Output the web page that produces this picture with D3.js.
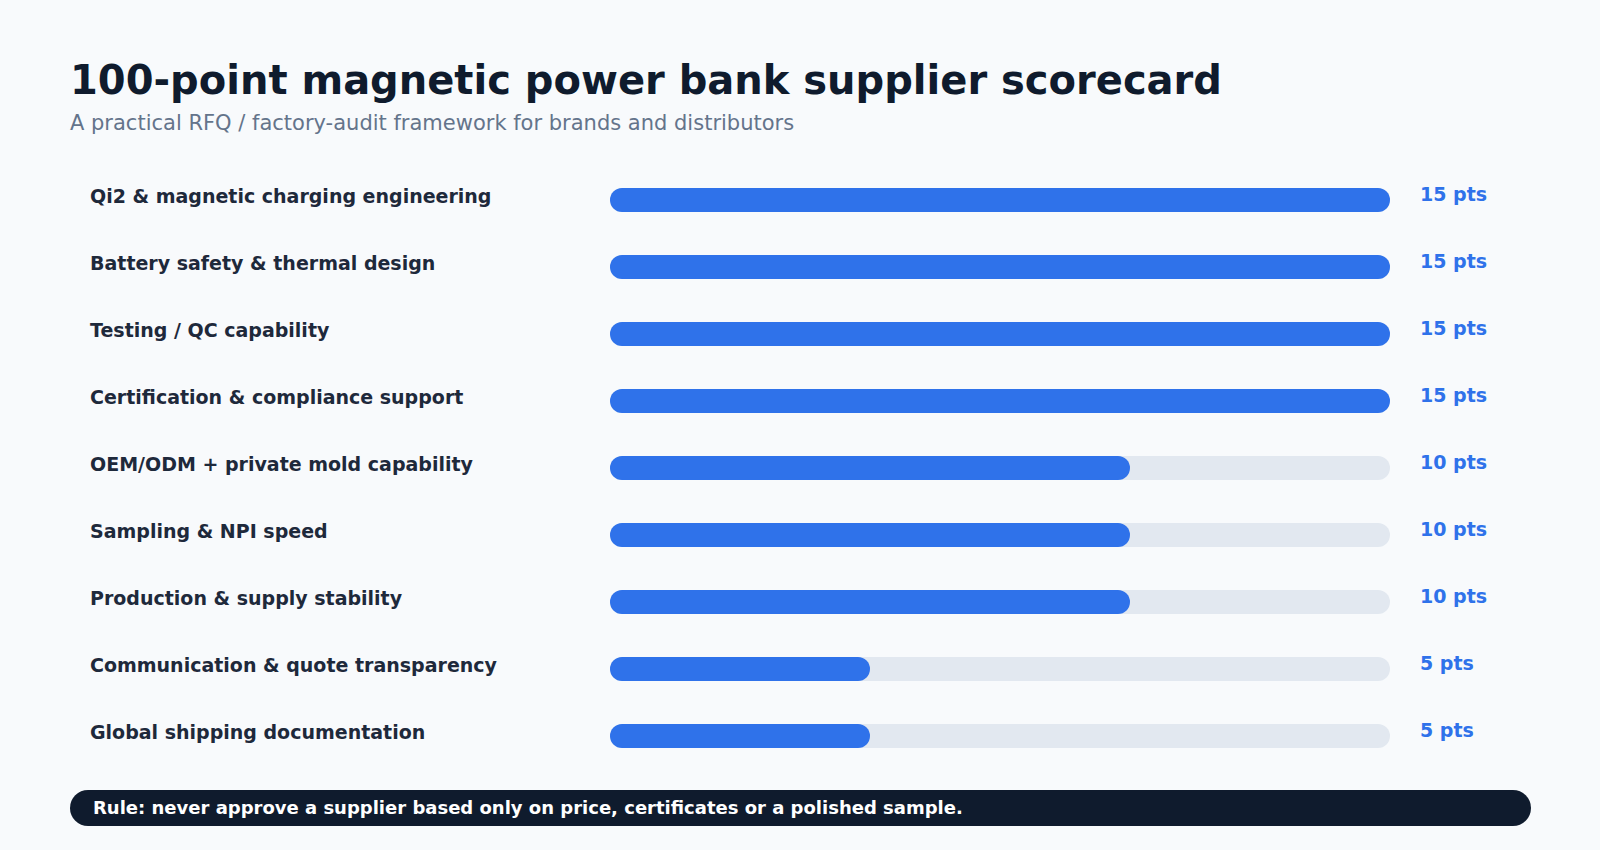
<!DOCTYPE html>
<html>
<head>
<meta charset="utf-8">
<script src="https://d3js.org/d3.v7.min.js"></script>
<title>Supplier scorecard</title>
<style>
  html, body { margin: 0; background: #f8fafc; }
  svg { display: block; font-family: "DejaVu Sans", sans-serif; }
</style>
</head>
<body>
<svg width="1600" height="850"></svg>
<script>
  const categories = [
    "Qi2 & magnetic charging engineering",
    "Battery safety & thermal design",
    "Testing / QC capability",
    "Certification & compliance support",
    "OEM/ODM + private mold capability",
    "Sampling & NPI speed",
    "Production & supply stability",
    "Communication & quote transparency",
    "Global shipping documentation"
  ]
  const points = [15, 15, 15, 15, 10, 10, 10, 5, 5]
  const maxPoints = 15
  const title = "100-point magnetic power bank supplier scorecard"
  const subtitle = "A practical RFQ / factory-audit framework for brands and distributors"
  const rule = "Rule: never approve a supplier based only on price, certificates or a polished sample."

  const svg = d3.select("svg")
  svg.append("rect").attr("width", 1600).attr("height", 850).attr("fill", "#f8fafc")

  svg.append("text")
    .attr("x", 70).attr("y", 94)
    .attr("font-size", 40).attr("font-weight", "bold").attr("fill", "#0f1b2d")
    .text(title)
  svg.append("text")
    .attr("x", 70).attr("y", 130)
    .attr("font-size", 21).attr("fill", "#64748b")
    .text(subtitle)

  // bar rows: centre of each row from a point scale
  const x = d3.scaleLinear().domain([0, maxPoints]).range([610, 1390])
  const y = d3.scalePoint().domain(categories).range([200, 736])
  const barH = 24

  const rows = svg.selectAll("g.row")
    .data(categories.map((c, i) => ({ c, v: points[i] })))
    .join("g")
    .attr("class", "row")
    .attr("transform", d => `translate(0,${y(d.c)})`)

  rows.append("rect")
    .attr("x", x(0)).attr("y", -barH / 2).attr("width", x(maxPoints) - x(0))
    .attr("height", barH).attr("rx", barH / 2)
    .attr("fill", "#e2e8f0")
  rows.append("rect")
    .attr("x", x(0)).attr("y", -barH / 2).attr("width", d => x(d.v) - x(0))
    .attr("height", barH).attr("rx", barH / 2)
    .attr("fill", "#2f72ea")

  rows.append("text")
    .attr("x", 90).attr("y", 3)
    .attr("font-size", 19).attr("font-weight", "bold").attr("fill", "#1e293b")
    .text(d => d.c)
  rows.append("text")
    .attr("x", 1420).attr("y", 0.5)
    .attr("font-size", 19).attr("font-weight", "bold").attr("fill", "#2f72ea")
    .text(d => d.v + " pts")

  svg.append("rect")
    .attr("x", 70).attr("y", 790).attr("width", 1461).attr("height", 36)
    .attr("rx", 18).attr("fill", "#0f1b2d")
  svg.append("text")
    .attr("x", 93).attr("y", 814)
    .attr("font-size", 18).attr("font-weight", "bold").attr("fill", "#ffffff")
    .text(rule)
</script>
</body>
</html>
